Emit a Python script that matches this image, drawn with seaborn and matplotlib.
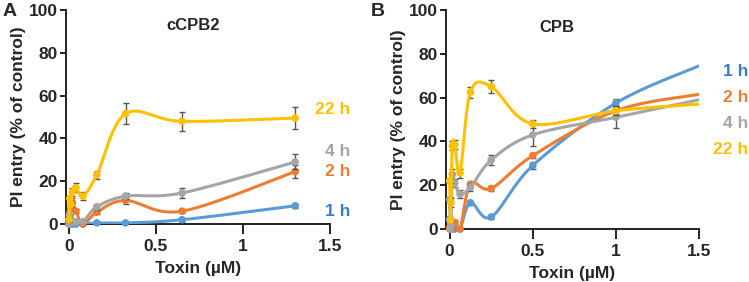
import numpy as np
import matplotlib
matplotlib.use("Agg")
import matplotlib.pyplot as plt
import seaborn as sns

# ---------------- data ----------------
series_names = ["1 h", "2 h", "4 h", "22 h"]

# Panel A: cCPB2
A_x = [0, 0.005, 0.01, 0.02, 0.04, 0.08, 0.16, 0.325, 0.65, 1.3]
A_1h = [4, 0, 0, 0, 0, 0, 0.5, 0.5, 2, 8.5]
A_2h = [0, 3, 7, 10, 6, 0, 5.5, 11, 6, 24.5]
A_4h = [0, 5, 2, 1, 1, 1, 8, 13, 14.5, 29]
A_22h = [2, 12, 9, 15, 17, 13, 23, 51.5, 48, 49.5]
A_1h_err = [0.5, 0.5, 0.5, 0.5, 0.5, 0.5, 0.5, 0.5, 1, 1]
A_2h_err = [0.5, 1, 2, 2, 1, 0.5, 1, 1.5, 1, 3]
A_4h_err = [0.5, 1, 1, 0.5, 0.5, 1, 1.5, 1.5, 2.5, 3.5]
A_22h_err = [1, 1, 1, 2, 2, 2, 2, 5, 4.5, 5]

# Panel B: CPB
B_x = [0, 0.004, 0.008, 0.016, 0.031, 0.0625, 0.125, 0.25, 0.5, 1]
B_1h = [4.5, 1, 0, 0, 0, 0, 12, 5.5, 29, 57.5]
B_2h = [0, 1, 0, 2, 3, 0, 20.5, 18.5, 33.5, 54]
B_4h = [13.5, 0, 2, 25, 21, 16, 19, 31.5, 43, 51]
B_22h = [22, 4, 12, 38, 38.5, 25.5, 62.5, 65, 48, 54]
B_1h_err = [1, 0.5, 0.5, 0.5, 0.5, 0.5, 1, 1, 1.5, 2]
B_2h_err = [0.5, 0.5, 0.5, 0.5, 0.5, 0.5, 1, 1, 1, 1.5]
B_4h_err = [1, 1, 1, 2.5, 2, 2, 1.5, 2.5, 5, 5]
B_22h_err = [1, 1, 2, 2, 2, 2, 2.5, 3, 2, 2]
# curve continuation to the axis end (no marker)
B_ext_x = 1.5
B_ext = [74.5, 61.5, 59, 57]

colors = ["#5B9BD5", "#ED7D31", "#A5A5A5", "#FFC000"]
label_colors = ["#3A7CC4", "#ED7D31", "#A5A5A5", "#FFC000"]

# ---------------- style ----------------
sns.set_style("ticks")
plt.rcParams["font.family"] = ["Liberation Sans", "DejaVu Sans"]
plt.rcParams["font.weight"] = "bold"

W, H = 749, 282
fig = plt.figure(figsize=(W / 100, H / 100), dpi=100)


def smooth(x, y, n=40):
    P = np.column_stack([x, y]).astype(float)
    Pe = np.vstack([P[0], P, P[-1]])
    t = np.linspace(0, 1, n)[:, None]
    out = []
    for i in range(len(P) - 1):
        p0, p1, p2, p3 = Pe[i], Pe[i + 1], Pe[i + 2], Pe[i + 3]
        c1 = p1 + (p2 - p0) / 6
        c2 = p2 - (p3 - p1) / 6
        seg = (1 - t) ** 3 * p1 + 3 * (1 - t) ** 2 * t * c1 + 3 * (1 - t) * t ** 2 * c2 + t ** 3 * p2
        out.append(seg if i == 0 else seg[1:])
    return np.vstack(out)


def fx(px):
    return px / W


def fy(py):
    return 1 - py / H


def make_axes(left, right, top, bottom, xmin):
    ax = fig.add_axes([fx(left), fy(bottom), fx(right) - fx(left), fy(top) - fy(bottom)])
    ax.set_xlim(xmin, 1.5)
    ax.set_ylim(0, 100)
    ax.set_xticks([0, 0.5, 1, 1.5])
    ax.set_xticklabels(["0", "0.5", "1", "1.5"])
    ax.set_yticks([0, 20, 40, 60, 80, 100])
    for s in ["top", "right"]:
        ax.spines[s].set_visible(False)
    for s in ["left", "bottom"]:
        ax.spines[s].set_linewidth(1.4)
        ax.spines[s].set_color("#222222")
    ax.tick_params(axis="x", length=7, width=1.4, pad=4, labelsize=12.5, color="#222222")
    ax.tick_params(axis="y", length=4, width=1.4, pad=2, labelsize=12.5, color="#222222")
    for lab in ax.get_xticklabels() + ax.get_yticklabels():
        lab.set_fontweight("bold")
    ax.set_xlabel("Toxin (µM)", fontsize=12.5, fontweight="bold", labelpad=5)
    ax.set_ylabel("PI entry (% of control)", fontsize=12.5, fontweight="bold", labelpad=2)
    return ax


def draw(ax, x, ys, errs, ext=None):
    for k, (y, e) in enumerate(zip(ys, errs)):
        xs, yy = list(x), list(y)
        if ext is not None:
            xs = xs + [ext[0]]
            yy = yy + [ext[1][k]]
        c = smooth(xs, yy)
        ax.errorbar(x, y, yerr=e, fmt="none", ecolor="#555555", elinewidth=1.0,
                    capsize=2.5, capthick=1.0, zorder=2 + k)
        sns.lineplot(x=c[:, 0], y=c[:, 1], sort=False, estimator=None, ax=ax,
                     color=colors[k], lw=2.2, zorder=3 + k)
        sns.scatterplot(x=x, y=y, ax=ax, color=colors[k], s=30, edgecolor="none",
                        zorder=3 + k, clip_on=False)


# Panel A
axA = make_axes(66, 330, 10, 224, -0.017)
draw(axA, A_x, [A_1h, A_2h, A_4h, A_22h], [A_1h_err, A_2h_err, A_4h_err, A_22h_err])

# Panel B
axB = make_axes(446, 699, 10, 229, -0.022)
draw(axB, B_x, [B_1h, B_2h, B_4h, B_22h], [B_1h_err, B_2h_err, B_4h_err, B_22h_err],
     ext=(B_ext_x, B_ext))

# titles
fig.text(fx(193), fy(25), "cCPB2", fontsize=12, fontweight="bold", ha="center", va="center")
fig.text(fx(557), fy(27), "CPB", fontsize=12, fontweight="bold", ha="center", va="center")

# panel letters
fig.text(fx(3), fy(12), "A", fontsize=14, fontweight="bold", va="center", ha="left")
fig.text(fx(371), fy(12), "B", fontsize=14, fontweight="bold", va="center", ha="left")

# series labels
A_lab_y = [211, 171, 151, 110]
for k, name in enumerate(series_names):
    fig.text(fx(350), fy(A_lab_y[k]), name, color=label_colors[k], fontsize=12.5,
             fontweight="bold", ha="right", va="center")
B_lab_y = [71, 98, 124, 150]
for k, name in enumerate(series_names):
    fig.text(fx(748), fy(B_lab_y[k]), name, color=label_colors[k], fontsize=12.5,
             fontweight="bold", ha="right", va="center")

fig.savefig("out.png", dpi=100)
